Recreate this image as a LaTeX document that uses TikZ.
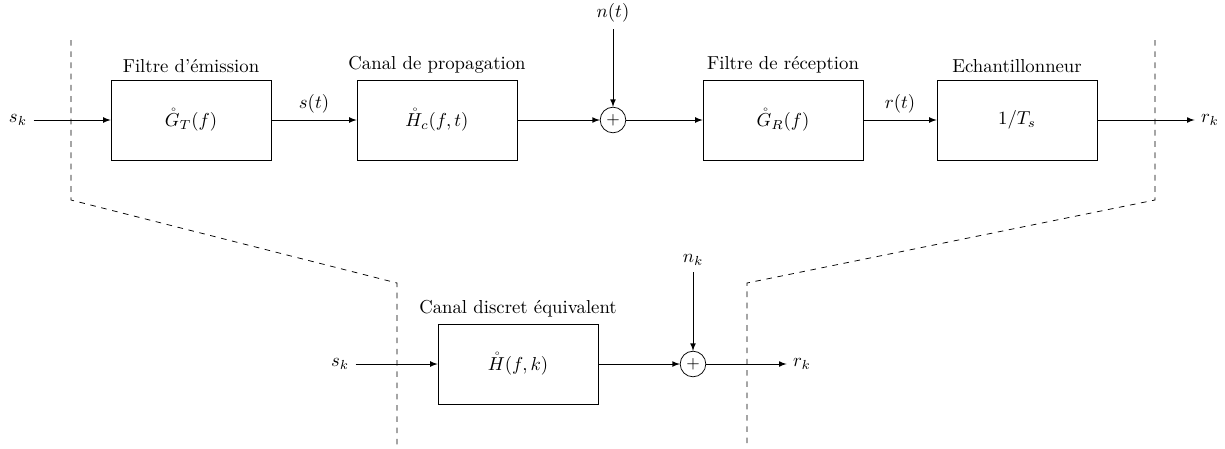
\documentclass[tikz,border=0pt]{standalone}
\usepackage{amsmath}
\begin{document}
\begin{tikzpicture}[x=0.01875cm,y=-0.01875cm,>=latex,
    bloc/.style={draw,minimum width=3cm,minimum height=1.5cm},
    somme/.style={draw,circle,inner sep=0pt,minimum size=0.48cm}]
    \useasboundingbox (0,0) rectangle (1225,448);
    % chaine de transmission
    \node (sk) at (18,120) {$s_k$};
    \node[bloc,label=above:{Filtre d'émission}] (gt) at (191,120) {$\mathring{G}_T(f)$};
    \node[bloc,label=above:{Canal de propagation}] (hc) at (437,120) {$\mathring{H}_c(f,t)$};
    \node[somme] (plus) at (613,120) {\small $+$};
    \node (nt) at (613,13) {$n(t)$};
    \node[bloc,label=above:{Filtre de réception}] (gr) at (783,120) {$\mathring{G}_R(f)$};
    \node[bloc,label=above:{Echantillonneur}] (ech) at (1017,120) {$1/T_s$};
    \node (rk) at (1210,120) {$r_k$};
    \draw[->] (sk) -- (gt);
    \draw[->] (gt) -- node[above] {$s(t)$} (hc);
    \draw[->] (hc) -- (plus);
    \draw[->] (nt) -- (plus);
    \draw[->] (plus) -- (gr);
    \draw[->] (gr) -- node[above] {$r(t)$} (ech);
    \draw[->] (ech) -- (rk);
    % canal discret
    \node (sk2) at (340,364) {$s_k$};
    \node[bloc,label=above:{Canal discret équivalent}] (h) at (518,364) {$\mathring{H}(f,k)$};
    \node[somme] (plus2) at (693,364) {\small $+$};
    \node (nk) at (693,260) {$n_k$};
    \node (rk2) at (802,364) {$r_k$};
    \draw[->] (sk2) -- (h);
    \draw[->] (h) -- (plus2);
    \draw[->] (nk) -- (plus2);
    \draw[->] (plus2) -- (rk2);
    % limites
    \draw[dashed] (71,40) -- (71,200) -- (397,283) -- (397,448);
    \draw[dashed] (1155,40) -- (1155,200) -- (747,283) -- (747,448);
\end{tikzpicture}
\end{document}
